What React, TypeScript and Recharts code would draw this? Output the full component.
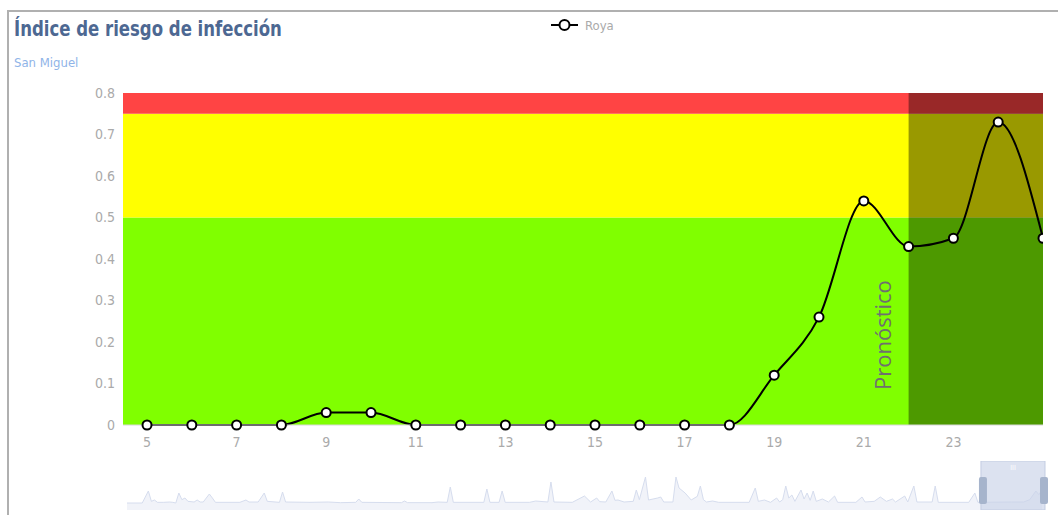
import { LineChart, Line, XAxis, YAxis, ReferenceArea, AreaChart, Area } from "recharts"

// --- Daily infection risk (Roya) ---
const DAYS = [5, 6, 7, 8, 9, 10, 11, 12, 13, 14, 15, 16, 17, 18, 19, 20, 21, 22, 23, 24, 25]
const ROYA = [0, 0, 0, 0, 0.03, 0.03, 0, 0, 0, 0, 0, 0, 0, 0, 0.12, 0.26, 0.54, 0.43, 0.45, 0.73, 0.45]
const X_TICKS = [5, 7, 9, 11, 13, 15, 17, 19, 21, 23]
const Y_TICKS = [0, 0.1, 0.2, 0.3, 0.4, 0.5, 0.6, 0.7, 0.8]
const FORECAST_FROM = 22

// risk bands
const BANDS = [
  { from: 0, to: 0.5, color: "#80ff00" },
  { from: 0.5, to: 0.75, color: "#ffff00" },
  { from: 0.75, to: 0.8, color: "#ff4444" },
]

// --- Navigator (whole season overview) ---
const NAV_DAYS = [
  0, 5, 7, 8, 9, 10, 12, 14, 15, 16, 17, 18, 19, 20, 22, 23, 24, 25, 26, 27, 28, 29, 37, 39, 40, 43, 45, 46, 50, 51, 52,
  60, 66, 70, 75, 76, 77, 90, 91, 92, 100, 102, 105, 106, 107, 117, 118, 119, 122, 123, 124, 132, 134, 138, 139, 140,
  146, 150, 152, 154, 155, 157, 159, 160, 161, 163, 166, 167, 168, 170, 171, 174, 175, 176, 179, 180, 181, 183, 185,
  187, 188, 189, 190, 192, 194, 204, 206, 207, 209, 211, 213, 214, 215, 216, 217, 218, 219, 221, 222, 223, 224, 225,
  226, 228, 230, 232, 233, 239, 241, 242, 245, 247, 249, 251, 252, 255, 256, 258, 259, 264, 265, 266, 276, 278, 279,
  290, 294, 296, 298, 299, 300,
]
const NAV_RISK = [
  0, 0, 0.36, 0.05, 0.09, 0.02, 0.02, 0.03, 0.02, 0, 0.3, 0.1, 0.15, 0.05, 0.03, 0.09, 0.03, 0.03, 0.15, 0.27, 0.15, 0.02, 0.02, 0.09, 0.03, 0.03, 0.3, 0.05, 0.02, 0.33, 0.03,
  0.02, 0.03, 0.01, 0.02, 0.12, 0.02, 0.01, 0.06, 0.01, 0.01, 0.03, 0.02, 0.48, 0.02, 0.02, 0.42, 0.02, 0.02, 0.36, 0.02, 0.02, 0.06, 0.03, 0.63, 0.03,
  0.02, 0.21, 0.03, 0.15, 0.04, 0.03, 0.36, 0.08, 0.09, 0.03, 0.05, 0.39, 0.1, 0.78, 0.09, 0.15, 0.18, 0.03, 0.03, 0.78, 0.45, 0.3, 0.09,
  0.2, 0.51, 0.1, 0.03, 0.06, 0.02, 0.02, 0.45, 0.05, 0.09, 0.02, 0.15, 0.03, 0.1, 0.51, 0.15, 0.24, 0.05, 0.39, 0.12, 0.3, 0.08, 0.36,
  0.05, 0.12, 0.03, 0.21, 0.02, 0.02, 0.18, 0.03, 0.05, 0.18, 0.05, 0.12, 0.03, 0.21, 0.03, 0.51, 0.03, 0.03, 0.51, 0.02, 0.02, 0.3, 0.02,
  0.03, 0.03, 0.1, 0.36, 0.25, 0.4,
]
const NAV_WINDOW = [280, 301]

const data = DAYS.map((d, i) => ({ day: d, roya: ROYA[i] }))
const navData = NAV_DAYS.map((d, i) => ({ day: d, v: NAV_RISK[i] }))

const FONT = "'Liberation Sans Narrow', 'DejaVu Sans Condensed', 'Liberation Sans', Arial, sans-serif"

const ForecastLabel = ({ viewBox }: any) => {
  if (!viewBox) return null
  const x = viewBox.x - 23
  const y = viewBox.y + viewBox.height - 35
  return (
    <text x={x} y={y} transform={`rotate(-90 ${x} ${y})`} dominantBaseline="middle"
      fill="#6f6f6f" fontSize={22} fontFamily="'Open Sans', 'Noto Sans', sans-serif">
      Pronóstico
    </text>
  )
}

// dataZoom window with its two handles
const NavWindow = (props: any) => {
  const { x, y, width, height } = props
  return (
    <g>
      <rect x={x} y={y} width={width} height={height} fill="#c9d3e8" fillOpacity={0.65} stroke="#c3cde2" />
      <rect x={x - 2} y={y + 16} width={8} height={27} rx={2} fill="#a6b4cc" />
      <rect x={x + width - 5} y={y + 16} width={8} height={27} rx={2} fill="#a6b4cc" />
      <text x={x + width / 2} y={y + 9} textAnchor="middle" fill="#ffffff" fontSize={7} fontFamily={FONT}>III</text>
    </g>
  )
}

export default function App() {
  return (
    <div style={{ position: "absolute", left: 0, top: 0, width: 1058, height: 515, overflow: "hidden", background: "#fff", fontFamily: FONT }}>
      {/* frame */}
      <div style={{ position: "absolute", left: 7, top: 10, width: 1060, height: 520, borderTop: "2px solid #b0b0b0", borderLeft: "2px solid #b0b0b0" }} />

      {/* Header */}
      <div style={{
        position: "absolute", left: 14, top: 17, fontSize: 21, fontWeight: 700, color: "#4d6892",
        whiteSpace: "nowrap", transform: "scaleX(0.875)", transformOrigin: "left center"
      }}>
        Índice de riesgo de infección
      </div>
      <div style={{ position: "absolute", left: 14, top: 55, fontSize: 13, color: "#8fb4e8", whiteSpace: "nowrap" }}>
        San Miguel
      </div>

      {/* Legend */}
      <div style={{ position: "absolute", left: 551, top: 17, display: "flex", alignItems: "center", gap: 7 }}>
        <svg width={27} height={16}>
          <line x1={0} y1={8} x2={27} y2={8} stroke="#000" strokeWidth={2} />
          <circle cx={13.5} cy={8} r={5} fill="#fff" stroke="#000" strokeWidth={2} />
        </svg>
        <span style={{ fontSize: 13, color: "#aaaaaa" }}>Roya</span>
      </div>

      {/* Main chart */}
      <div style={{ position: "absolute", left: 0, top: 0 }}>
        <LineChart width={1058} height={470} data={data} margin={{ top: 93, right: 15, bottom: 15, left: 63 }}>
          <XAxis dataKey="day" type="number" domain={[4.464, 25]} ticks={X_TICKS} allowDataOverflow
            axisLine={{ stroke: "#d8d8d8" }} tickLine={false} tickMargin={6} height={30}
            tick={{ fill: "#aaaaaa", fontSize: 14, fontFamily: FONT }} />
          <YAxis type="number" domain={[0, 0.8]} ticks={Y_TICKS} width={60}
            axisLine={false} tickLine={false}
            tick={{ fill: "#aaaaaa", fontSize: 14, fontFamily: FONT }} />

          {BANDS.map(b => (
            <ReferenceArea key={b.color} y1={b.from} y2={b.to} fill={b.color} fillOpacity={1} stroke="none" />
          ))}
          <ReferenceArea x1={FORECAST_FROM} x2={25} y1={0} y2={0.8} fill="#000" fillOpacity={0.4} stroke="none"
            label={<ForecastLabel />} />

          <Line type="monotone" dataKey="roya" stroke="#000" strokeWidth={2}
            dot={{ r: 4.5, fill: "#fff", stroke: "#000", strokeWidth: 2 }}
            isAnimationActive={false} />
        </LineChart>
      </div>

      {/* Navigator */}
      <div style={{ position: "absolute", left: 0, top: 461 }}>
        <AreaChart width={1058} height={49} data={navData} margin={{ top: 0, right: 13, bottom: 0, left: 127 }}>
          <XAxis dataKey="day" type="number" domain={[0, 301]} hide />
          <YAxis type="number" domain={[-0.21, 1.26]} hide />
          <Area type="linear" dataKey="v" baseValue="dataMin" stroke="#d6ddee" strokeWidth={1}
            fill="#f1f3f9" fillOpacity={1} isAnimationActive={false} />
          <ReferenceArea x1={NAV_WINDOW[0]} x2={NAV_WINDOW[1]} y1={-0.21} y2={1.26} shape={<NavWindow />} />
        </AreaChart>
      </div>
    </div>
  )
}
